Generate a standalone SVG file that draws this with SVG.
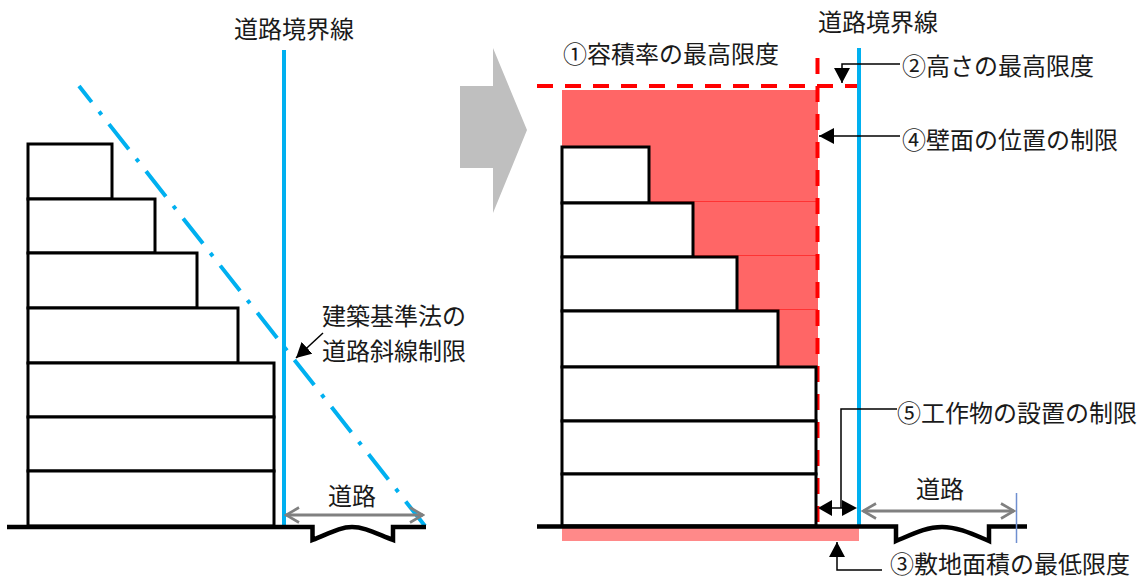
<svg xmlns="http://www.w3.org/2000/svg" width="1141" height="578" viewBox="0 0 1141 578">
<defs>
<marker id="a" markerUnits="userSpaceOnUse" markerWidth="16" markerHeight="16" refX="15" refY="8" orient="auto-start-reverse" viewBox="0 0 16 16"><path d="M0 0L15 8L0 16Z" fill="#000"/></marker>
<marker id="g" markerUnits="userSpaceOnUse" markerWidth="16" markerHeight="18" refX="14" refY="9" orient="auto-start-reverse" viewBox="0 0 16 18"><path d="M1 1.500L14 9L1 16.500" fill="none" stroke="#808080" stroke-width="2.600"/></marker>
</defs>
<style>
text{font-family:"Noto Sans CJK JP","Noto Sans CJK SC",sans-serif;font-size:24px;fill:#1a1a1a}
.f{fill:#fff;stroke:#000;stroke-width:3}
.g{fill:none;stroke:#000;stroke-width:4.500}
.b{fill:none;stroke:#00b0f0;stroke-width:4}
.r{fill:none;stroke:#ff0000;stroke-width:4;stroke-dasharray:16 12}
.c{fill:none;stroke:#000;stroke-width:1.500}
.w{fill:none;stroke:#808080;stroke-width:2.800;marker-start:url(#g);marker-end:url(#g)}
</style>
<g id="left-building">
<rect class="f" x="28" y="144" width="84" height="55"/>
<rect class="f" x="28" y="199" width="127" height="54"/>
<rect class="f" x="28" y="253" width="169" height="55"/>
<rect class="f" x="28" y="308" width="210" height="55"/>
<rect class="f" x="28" y="363" width="246" height="54"/>
<rect class="f" x="28" y="417" width="246" height="54"/>
<rect class="f" x="28" y="471" width="246" height="55"/>
</g>
<g id="left-boundary"><path class="b" d="M284 50V526"/></g>
<g id="left-slant"><path d="M79 86L425 526" fill="none" stroke="#00b0f0" stroke-width="4" stroke-dasharray="32 12 4 12" stroke-dashoffset="11.500"/></g>
<g id="left-ground"><path class="g" d="M7 527H312.500V540C330 533 340 527 352 527S375 533 393 540V527H426"/></g>
<g id="right-fill">
<rect x="562" y="90" width="256" height="277" fill="#ff6666"/>
<path d="M650 201.500H818M693 255.500H818M737 309.500H818" stroke="#ff3333" stroke-width="1"/>
<rect x="562" y="528" width="297" height="13" fill="#ff8989"/>
</g>
<g id="right-limits">
<path class="r" d="M537 86H858"/>
<path class="r" d="M817.500 58V526"/>
</g>
<g id="right-building">
<rect class="f" x="562" y="147" width="87" height="56"/>
<rect class="f" x="562" y="203" width="131" height="54"/>
<rect class="f" x="562" y="257" width="175" height="54"/>
<rect class="f" x="562" y="311" width="216" height="56"/>
<rect class="f" x="562" y="367" width="254" height="54"/>
<rect class="f" x="562" y="421" width="254" height="53"/>
<rect class="f" x="562" y="474" width="254" height="52"/>
</g>
<g id="right-boundary"><path class="b" d="M859 48V526"/></g>
<g id="right-ground"><path class="g" d="M537 526.500H896V541C915 533 927 527 942 527S970 533 989 541V526.500H1027"/>
<path d="M1016.500 493V543" stroke="#6f8fd0" stroke-width="1.500"/></g>
<g id="arrow-shape"><path d="M460 86H493V48L527 130L493 213V168H460Z" fill="#bfbfbf"/></g>
<g id="connectors">
<path class="w" d="M286 515H423"/>
<path class="w" d="M863 511H1014"/>
<path class="c" d="M323 333L296 358" marker-end="url(#a)"/>
<path class="c" d="M900 64H842V83" marker-end="url(#a)"/>
<path class="c" d="M900 136H819" marker-end="url(#a)"/>
<path class="c" d="M897 409H841V508"/>
<path d="M832 508H842" stroke="#000" stroke-width="1.500"/>
<path d="M832 500V516L818 508ZM842 500V516L857 508Z" fill="#000"/>
<path class="c" d="M882 570H837V542" marker-end="url(#a)"/>
</g>
<g id="labels">
<text x="234" y="38">道路境界線</text>
<text x="322" y="324.500">建築基準法の</text>
<text x="322" y="359.500">道路斜線制限</text>
<text x="328" y="505">道路</text>
<text x="563" y="63">①容積率の最高限度</text>
<text x="818" y="31">道路境界線</text>
<text x="902" y="75">②高さの最高限度</text>
<text x="902" y="149">④壁面の位置の制限</text>
<text x="897" y="422">⑤工作物の設置の制限</text>
<text x="916" y="498">道路</text>
<text x="890" y="573">③敷地面積の最低限度</text>
</g>
</svg>
